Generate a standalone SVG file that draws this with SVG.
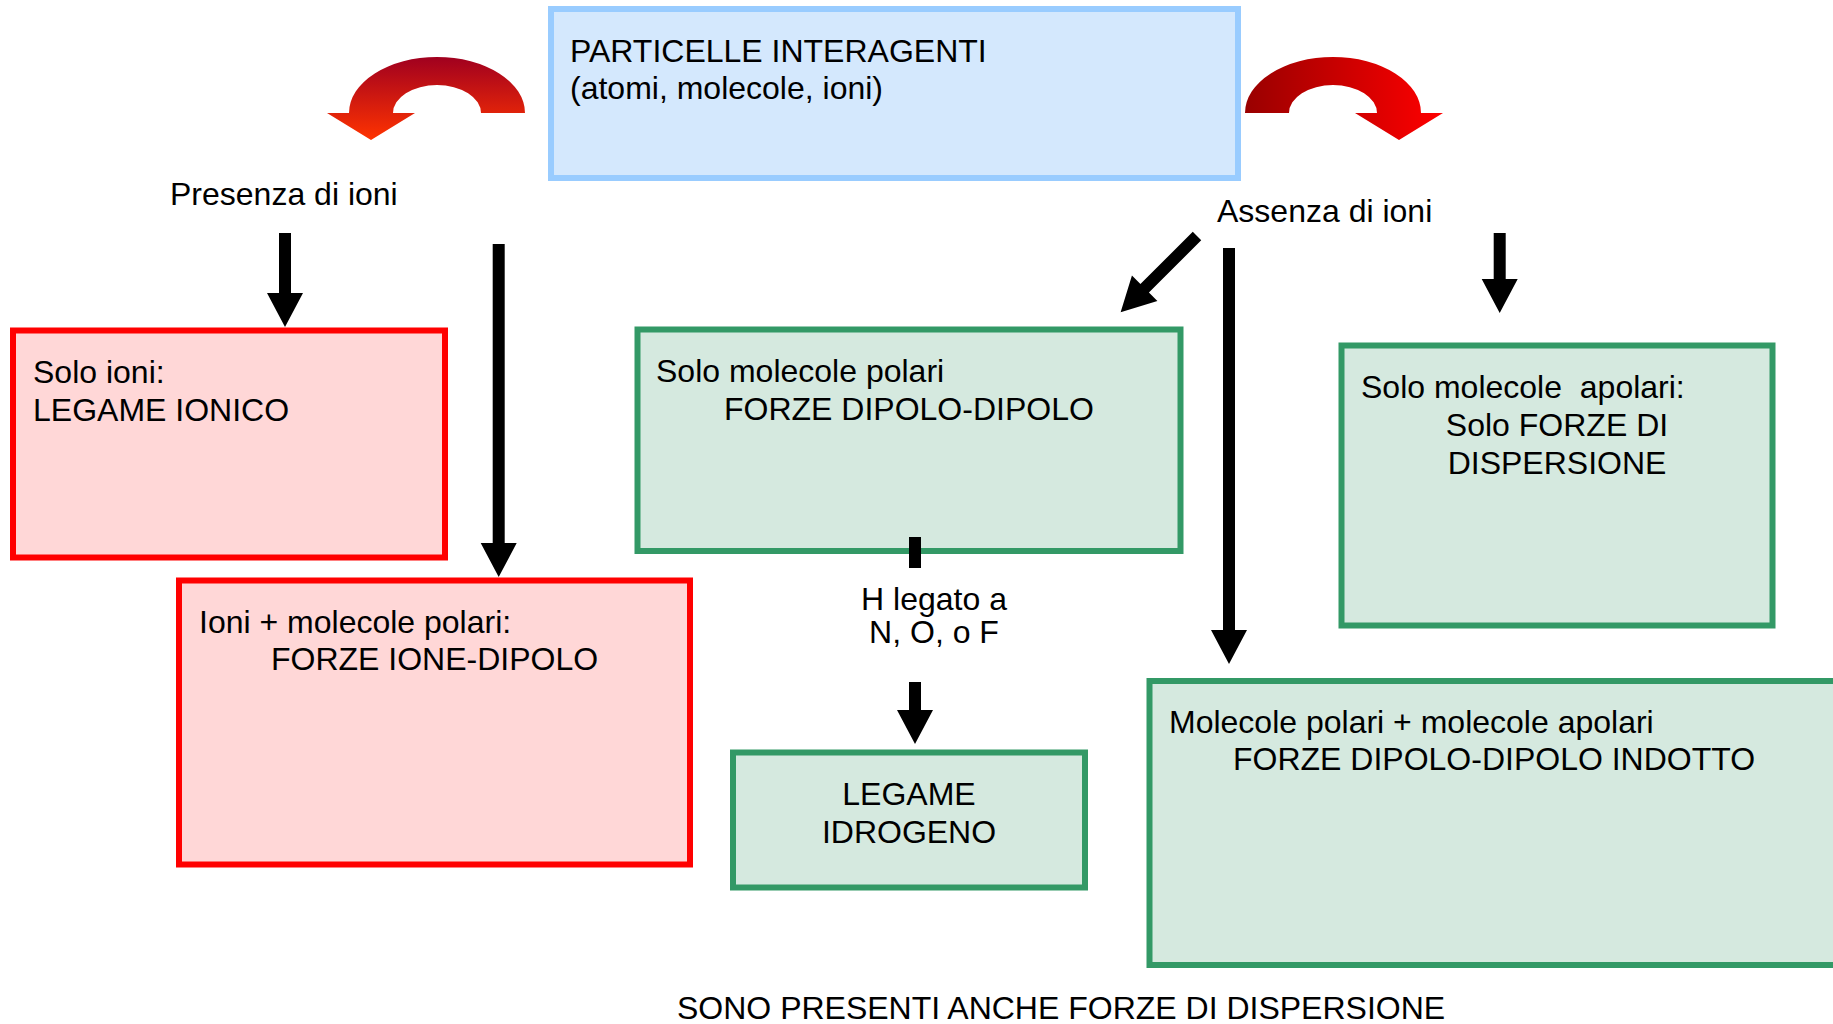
<svg xmlns="http://www.w3.org/2000/svg" width="1833" height="1024" viewBox="0 0 1833 1024">
<style>
text{font-family:"Liberation Sans",Arial,sans-serif;font-size:32px;fill:#000;white-space:pre}
.red{fill:#ffd7d7;stroke:#ff0000;stroke-width:6}
.green{fill:#d5e9df;stroke:#339966;stroke-width:6}
.blue{fill:#d4e8fd;stroke:#99ccff;stroke-width:6}
.arr{fill:#000}
.mid{text-anchor:middle}
</style>
<defs>
<linearGradient id="gL" gradientUnits="userSpaceOnUse" x1="0" y1="57" x2="0" y2="140">
<stop offset="0" stop-color="#a0001f"/><stop offset="1" stop-color="#ff3300"/>
</linearGradient>
<linearGradient id="gR" gradientUnits="userSpaceOnUse" x1="1245" y1="0" x2="1443" y2="0">
<stop offset="0" stop-color="#990000"/><stop offset="1" stop-color="#ff0000"/>
</linearGradient>
</defs>
<rect width="1833" height="1024" fill="#fff"/>
<g id="top">
<rect class="blue" x="551" y="9" width="687" height="169"/>
<text x="570" y="62">PARTICELLE INTERAGENTI</text>
<text x="570" y="99">(atomi, molecole, ioni)</text>
</g>
<g id="curve-left">
<path fill="url(#gL)" d="M349,113 A88,56 0 0 1 525,113 L481,113 A44,28 0 0 0 393,113 L415,113 L371,140 L327,113 Z"/>
</g>
<g id="curve-right">
<path fill="url(#gR)" d="M1245,113 A88,56 0 0 1 1421,113 L1443,113 L1399,140 L1355,113 L1377,113 A44,28 0 0 0 1289,113 Z"/>
</g>
<g id="label-presenza"><text x="170" y="205">Presenza di ioni</text></g>
<g id="label-assenza"><text x="1217" y="222">Assenza di ioni</text></g>
<g id="solo-ioni">
<rect class="red" x="13" y="330.5" width="432" height="227"/>
<text x="33" y="383">Solo ioni:</text>
<text x="33" y="421">LEGAME IONICO</text>
</g>
<g id="ioni-molecole">
<rect class="red" x="179" y="580.5" width="511" height="284"/>
<text x="199" y="633">Ioni + molecole polari:</text>
<text x="271" y="670">FORZE IONE-DIPOLO</text>
</g>
<g id="solo-polari">
<rect class="green" x="637.5" y="329.5" width="543" height="221.5"/>
<text x="656" y="382">Solo molecole polari</text>
<text x="724" y="420">FORZE DIPOLO-DIPOLO</text>
</g>
<g id="label-h"><text class="mid" x="934" y="610">H legato a</text><text class="mid" x="934" y="643">N, O, o F</text></g>
<g id="legame-idrogeno">
<rect class="green" x="733" y="752.5" width="352" height="135"/>
<text class="mid" x="909" y="805">LEGAME</text>
<text class="mid" x="909" y="843">IDROGENO</text>
</g>
<g id="solo-apolari">
<rect class="green" x="1341.5" y="345.5" width="431" height="280"/>
<text x="1361" y="398">Solo molecole  apolari:</text>
<text class="mid" x="1557" y="436">Solo FORZE DI</text>
<text class="mid" x="1557" y="474">DISPERSIONE</text>
</g>
<g id="polari-apolari">
<rect class="green" x="1149.5" y="681" width="700" height="284"/>
<text x="1169" y="733">Molecole polari + molecole apolari</text>
<text x="1233" y="770">FORZE DIPOLO-DIPOLO INDOTTO</text>
</g>
<g id="footer"><text x="677" y="1019">SONO PRESENTI ANCHE FORZE DI DISPERSIONE</text></g>
<g id="connectors">
<path class="arr" d="M279,233 H291 V293 H303 L285,327 L267,293 H279 Z"/>
<path class="arr" d="M492.7,244 H504.7 V543 H516.7 L498.7,577 L480.7,543 H492.7 Z"/>
<rect class="arr" x="909" y="537" width="12" height="31"/>
<path class="arr" d="M909,682 H921 V710 H933 L915,744 L897,710 H909 Z"/>
<path class="arr" d="M1493.7,233 H1505.7 V279 H1517.7 L1499.7,313 L1481.7,279 H1493.7 Z"/>
<path class="arr" d="M1223,248 H1235 V630 H1247 L1229,664 L1211,630 H1223 Z"/>
<path class="arr" transform="translate(1197,236) rotate(45)" d="M-6,0 H6 V74 H18 L0,108 L-18,74 H-6 Z"/>
</g>
</svg>
